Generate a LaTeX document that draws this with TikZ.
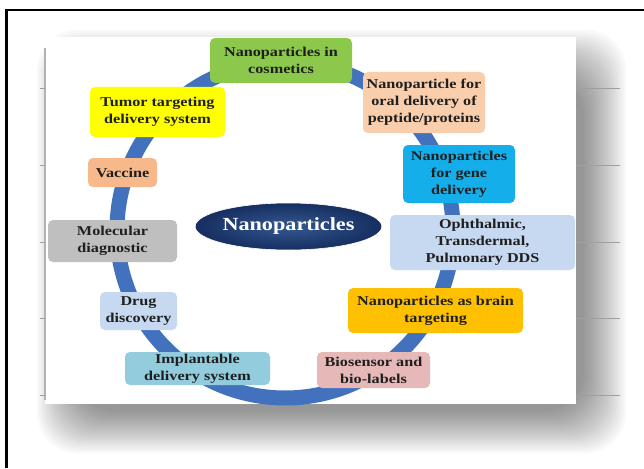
\documentclass[tikz,border=0pt]{standalone}
\usepackage{fontspec}
\setmainfont{Liberation Serif}[FakeStretch=1.2]
\usetikzlibrary{shapes.geometric}
\definecolor{ringblue}{RGB}{66,114,190}
\definecolor{cgreen}{RGB}{140,200,75}
\definecolor{cpeach}{RGB}{249,206,172}
\definecolor{ccyan}{RGB}{20,174,234}
\definecolor{clblue}{RGB}{198,217,241}
\definecolor{corange}{RGB}{255,192,0}
\definecolor{cpink}{RGB}{230,185,184}
\definecolor{cteal}{RGB}{147,205,221}
\definecolor{cgray}{RGB}{191,191,191}
\definecolor{cvacc}{RGB}{247,185,140}
\definecolor{cyell}{RGB}{255,255,0}
\definecolor{navyin}{RGB}{52,88,145}
\definecolor{navyout}{RGB}{22,46,96}
\begin{document}
\begin{tikzpicture}[x=1pt,y=-1pt,
  box/.style={rectangle, rounded corners=5pt, inner sep=0pt, align=center,
    font=\fontsize{13.5}{17}\selectfont\bfseries, text=black!88},
  ring/.style={line width=15pt, draw=ringblue},
  shadowlayer/.style={fill=black, opacity=0.022, rounded corners=40pt},
  edgeline/.style={draw=gray!75, line width=0.8pt},
  frameline/.style={draw=black, line width=2.2pt}]
\useasboundingbox (0,0) rectangle (644,468);
\fill[white] (0,0) rectangle (644,468);
% soft shadow behind the picture
\foreach \k in {0,...,19}{
  \fill[shadowlayer] ({37+2*\k},{30+2.5*\k}) rectangle ({626-2.2*\k},{453-2.2*\k});
}
% the picture itself
\fill[white] (45,37) rectangle (576,404);
\draw[draw=gray!60, line width=1.2pt] (45,48) -- (45,400);
\foreach \yy in {88,165,242,318,395}{
  \draw[edgeline] (576,\yy) -- (620,\yy);
  \draw[edgeline] (40,\yy) -- (45,\yy);
}
% ring
\draw[ring] (285,230) circle[radius=168pt];
% boxes
\node[box, fill=cgreen, minimum width=142pt, minimum height=45pt] (cos) at (281,60.5) {Nanoparticles in\\cosmetics};
\node[box, fill=cpeach, minimum width=122pt, minimum height=61pt] (oral) at (424,102.5) {Nanoparticle for\\oral delivery of\\peptide/proteins};
\node[box, fill=ccyan, minimum width=112pt, minimum height=58pt] (gene) at (459,174) {Nanoparticles\\for gene\\delivery};
\node[box, fill=clblue, minimum width=185pt, minimum height=55pt] (oph) at (482.5,242.5) {Ophthalmic,\\Transdermal,\\Pulmonary DDS};
\node[box, fill=corange, minimum width=175pt, minimum height=45pt] (brain) at (435.5,310.5) {Nanoparticles as brain\\targeting};
\node[box, fill=cpink, minimum width=113pt, minimum height=36pt] (bio) at (373.5,370) {Biosensor and\\bio-labels};
\node[box, fill=cteal, minimum width=145pt, minimum height=33pt] (impl) at (197.5,368.5) {Implantable\\delivery system};
\node[box, fill=clblue, minimum width=77pt, minimum height=38pt] (drug) at (138.5,311) {Drug\\discovery};
\node[box, fill=cgray, minimum width=129pt, minimum height=42pt] (mol) at (112.5,241) {Molecular\\diagnostic};
\node[box, fill=cvacc, minimum width=69pt, minimum height=29pt] (vacc) at (122.5,172.5) {Vaccine};
\node[box, fill=cyell, minimum width=135pt, minimum height=50pt] (tumor) at (157.5,112) {Tumor targeting\\delivery system};
% centre
\node[ellipse, inner color=navyin, outer color=navyout, draw=white, line width=0.6pt,
  minimum width=157pt, minimum height=47pt, inner sep=0pt, text=white,
  font=\fontsize{18.5}{20}\selectfont\bfseries] (centre) at (288.5,226.5) {Nanoparticles};
% outer frame
\draw[frameline] (6.5,468) -- (6.5,10) -- (644,10);
\end{tikzpicture}
\end{document}
